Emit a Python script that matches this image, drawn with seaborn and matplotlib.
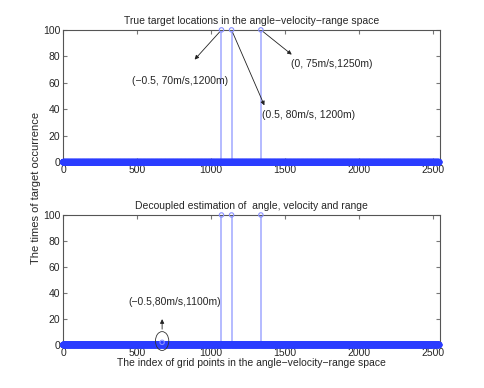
import numpy as np
import pandas as pd
import matplotlib
matplotlib.use("Agg")
import matplotlib.pyplot as plt
import seaborn as sns
from matplotlib.patches import Ellipse
from matplotlib import font_manager

# grid size and detected targets (index, times of occurrence)
n_grid = 2541
true_idx = [1070, 1138, 1336]
true_cnt = [100, 100, 100]
est_idx = [669, 1070, 1138, 1336]
est_cnt = [2, 100, 100, 100]

true_labels = ["(\u22120.5, 70m/s,1200m)", "(0.5, 80m/s, 1200m)", "(0, 75m/s,1250m)"]
est_label = "(\u22120.5,80m/s,1100m)"

sns.set_style("ticks")
names = {f.name for f in font_manager.fontManager.ttflist}
fam = "Liberation Sans Narrow" if "Liberation Sans Narrow" in names else "Liberation Sans"
plt.rcParams["font.family"] = [fam, "DejaVu Sans"]


def make_df(idx, cnt):
    counts = np.zeros(n_grid)
    for i, c in zip(idx, cnt):
        counts[i - 1] = c
    return pd.DataFrame({"index": np.arange(1, n_grid + 1), "count": counts})


def stem_panel(ax, df, title):
    nz = df[df["count"] > 0]
    zr = df[df["count"] == 0]
    ax.vlines(nz["index"], 0, nz["count"], color="#a0a8ff", lw=1.1, zorder=2)
    sns.scatterplot(data=zr, x="index", y="count", ax=ax, marker="o",
                    s=14, facecolor="none", edgecolor="#2a3cff", linewidth=1.0,
                    legend=False, zorder=3, clip_on=False)
    sns.scatterplot(data=nz, x="index", y="count", ax=ax, marker="o",
                    s=10, facecolor="none", edgecolor="#8890ff", linewidth=0.8,
                    legend=False, zorder=4, clip_on=False)
    ax.set_xlim(0, n_grid + 4)
    ax.set_ylim(0, 100)
    ax.set_xticks([0, 500, 1000, 1500, 2000, 2500])
    ax.set_yticks([0, 20, 40, 60, 80, 100])
    ax.tick_params(direction="in", length=3, labelsize=7.5, top=True, right=True, pad=2,
                   color="#777777")
    for s in ax.spines.values():
        s.set_visible(True)
        s.set_color("#555555")
        s.set_linewidth(0.8)
    ax.set_title(title, fontsize=7.5, pad=4)
    ax.set_xlabel("")
    ax.set_ylabel("")


fig = plt.figure(figsize=(4.85, 3.88), dpi=100)
ax1 = fig.add_axes([0.130, 0.582, 0.777, 0.341])
ax2 = fig.add_axes([0.130, 0.111, 0.777, 0.335])

stem_panel(ax1, make_df(true_idx, true_cnt),
           "True target locations in the angle\u2212velocity\u2212range space")
stem_panel(ax2, make_df(est_idx, est_cnt),
           "Decoupled estimation of  angle, velocity and range")

arrow = dict(arrowstyle="-|>", color="#222222", lw=0.6, mutation_scale=6)
ax1.annotate("", xy=(876, 76), xytext=(true_idx[0], 100), arrowprops=arrow)
ax1.text(790, 61, true_labels[0], fontsize=7.5, ha="center", va="center")
ax1.annotate("", xy=(1367, 41), xytext=(true_idx[1], 100), arrowprops=arrow)
ax1.text(1345, 35.5, true_labels[1], fontsize=7.5, ha="left", va="center")
ax1.annotate("", xy=(1559, 80), xytext=(true_idx[2], 100), arrowprops=arrow)
ax1.text(1540, 74, true_labels[2], fontsize=7.5, ha="left", va="center")

ax2.add_patch(Ellipse((est_idx[0], 3), 90, 14.5, fill=False, ec="#333333", lw=0.6,
                      zorder=5, clip_on=False))
ax2.annotate("", xy=(est_idx[0], 22), xytext=(est_idx[0], 10), arrowprops=arrow)
ax2.text(755, 33, est_label, fontsize=7.5, ha="center", va="center")

ax2.set_xlabel("The index of grid points in the angle\u2212velocity\u2212range space",
               fontsize=7.5, labelpad=0)
fig.text(0.075, 0.515, "The times of target occurrence", rotation=90,
         fontsize=8, ha="center", va="center")

fig.savefig("out.png", dpi=100)
